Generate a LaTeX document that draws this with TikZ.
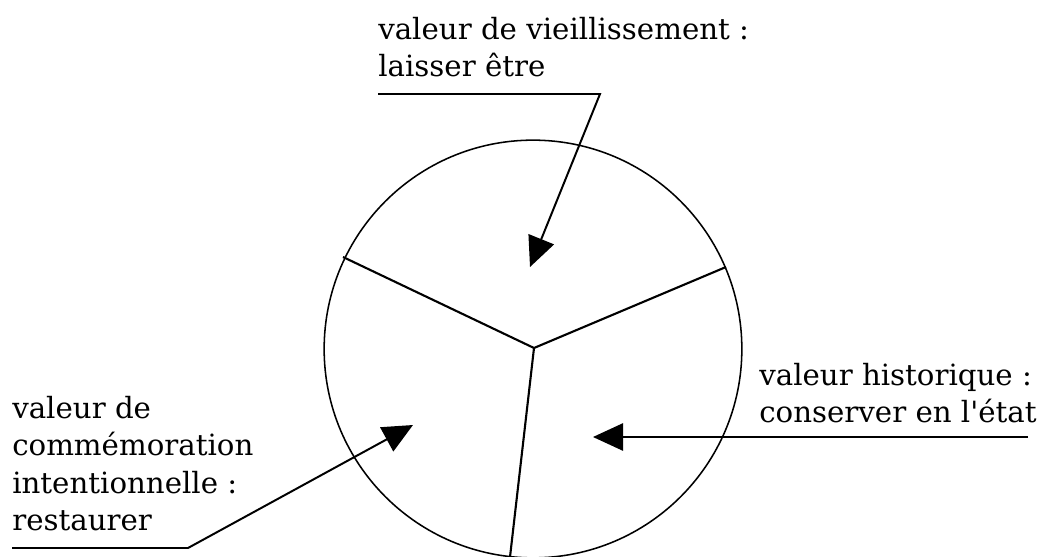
\documentclass[tikz,border=0pt]{standalone}
\usepackage{fontspec}
\setmainfont{DejaVu Serif}
\usetikzlibrary{arrows.meta}

\begin{document}
\begin{tikzpicture}[x=0.025cm, y=-0.025cm,
    lbl/.style={font=\fontsize{20.8}{26.5}\selectfont, align=left, inner sep=0pt, anchor=north west},
    arr/.style={line width=1.4pt, -{Triangle[length=7.5mm, width=6.8mm]}}]
    \useasboundingbox (0,0) rectangle (1038,557);
    \coordinate (c) at (534,348);
    \coordinate (sp-l) at (343,257);
    \coordinate (sp-r) at (726,267);
    \coordinate (sp-b) at (510,557);
    \draw[line width=1.1pt] (533,349) circle[radius=5.22cm];
    \draw[line width=1.5pt] (sp-l) -- (c) -- (sp-r);
    \draw[line width=1.5pt] (c) -- (sp-b);
    \node[lbl] (vieil) at (378,17) {valeur de vieillissement :\\laisser être};
    \node[lbl] (hist) at (759,363) {valeur historique :\\conserver en l\textquotesingle état};
    \node[lbl] (comm) at (12,396) {valeur de\\commémoration\\intentionnelle :\\restaurer};
    \coordinate (vieil-k) at (600,94);
    \coordinate (vieil-t) at (530,267);
    \coordinate (hist-k) at (1028,437);
    \coordinate (hist-t) at (593,437);
    \coordinate (comm-k) at (188,548);
    \coordinate (comm-t) at (413,425);
    \draw[arr] (vieil.west |- vieil-k) -- (vieil-k) -- (vieil-t);
    \draw[arr] (hist-k) -- (hist-t);
    \draw[arr] (comm.west |- comm-k) -- (comm-k) -- (comm-t);
\end{tikzpicture}
\end{document}
